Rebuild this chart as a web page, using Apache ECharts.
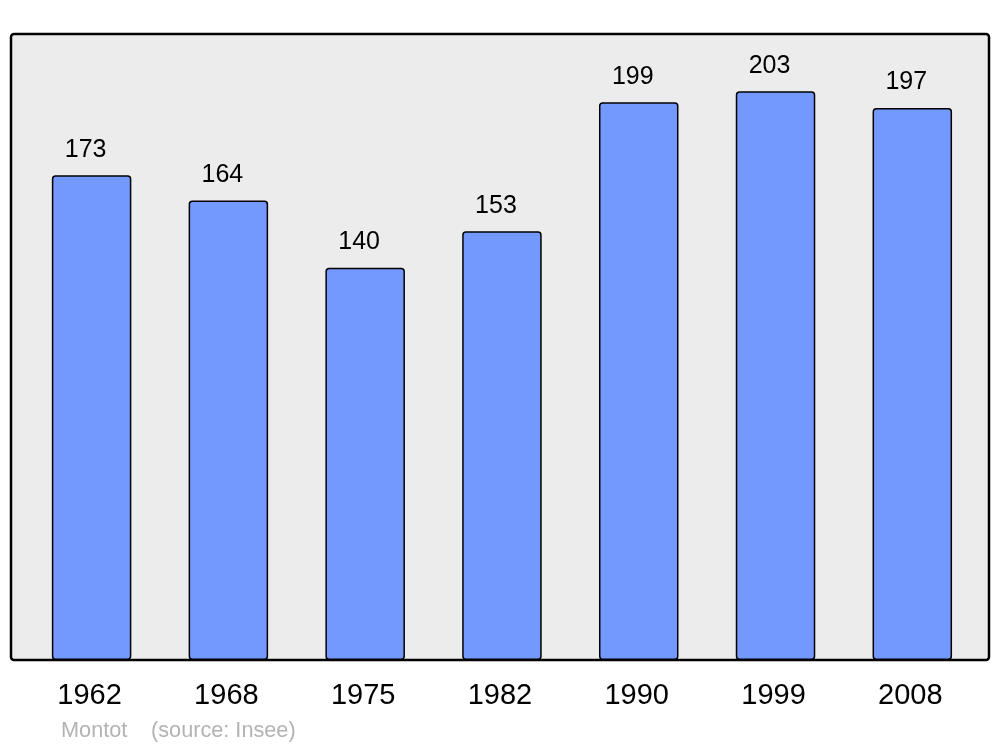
<!DOCTYPE html>
<html><head><meta charset="utf-8">
<script src="https://cdn.jsdelivr.net/npm/echarts@6/dist/echarts.min.js"></script>
<style>html,body{margin:0;padding:0;background:#fff}#c{width:1000px;height:747px}</style>
</head><body><div id="c"></div>
<script>
const years = ['1962','1968','1975','1982','1990','1999','2008'];
const population = [173,164,140,153,199,203,197];
const placeName = 'Montot';
const sourceText = '(source: Insee)';

const chart = echarts.init(document.getElementById('c'), null, {renderer:'canvas'});
chart.setOption({
  animation:false,
  backgroundColor:'#ffffff',
  grid:{left:23.2,right:19.3,top:34,bottom:87,containLabel:false},
  graphic:[
    {type:'rect',z:-10,shape:{x:11,y:34,width:978,height:626,r:3},style:{fill:'#ececec',stroke:'#000',lineWidth:2.5}},
    {type:'text',left:61,top:720,style:{text:placeName,fill:'#b3b3b3',font:'21.7px "Liberation Sans", Arial, sans-serif'}},
    {type:'text',left:151,top:720,style:{text:sourceText,fill:'#b3b3b3',font:'21.7px "Liberation Sans", Arial, sans-serif'}}
  ],
  xAxis:{type:'category',data:years,boundaryGap:true,
    axisLine:{show:false},axisTick:{show:false},
    axisLabel:{color:'#000',fontSize:29,fontFamily:'"Liberation Sans", Arial, sans-serif',margin:21,padding:[0,4,0,0]}},
  yAxis:{type:'value',min:0,max:223.4,show:false,splitLine:{show:false}},
  series:[{type:'bar',data:population,barWidth:79.5,
    itemStyle:{color:'#7399ff',borderColor:'#000',borderWidth:1.5,borderRadius:3},
    label:{show:true,position:'top',distance:13,offset:[-6,0],color:'#000',fontSize:25,fontFamily:'"Liberation Sans", Arial, sans-serif'}}]
});
</script></body></html>
